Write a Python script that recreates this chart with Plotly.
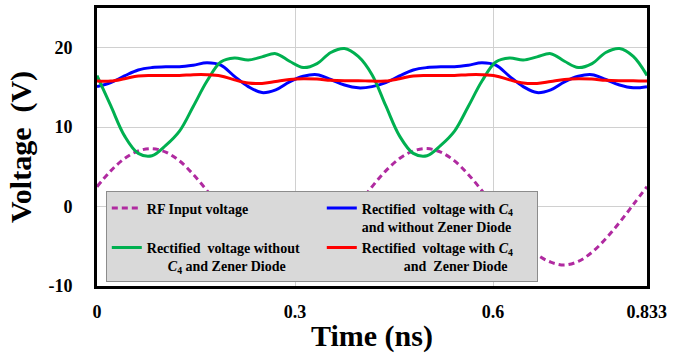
import plotly.graph_objects as go

# Time samples (ns)
time_ns = [0.0, 0.0208, 0.0417, 0.0625, 0.0833, 0.1042, 0.125, 0.1458, 0.1667, 0.1875,
           0.2083, 0.2292, 0.25, 0.2708, 0.2917, 0.3125, 0.3333, 0.3542, 0.375, 0.3958,
           0.4167, 0.4375, 0.4583, 0.4792, 0.5, 0.5208, 0.5417, 0.5625, 0.5833, 0.6042,
           0.625, 0.6458, 0.6667, 0.6875, 0.7083, 0.7292, 0.75, 0.7708, 0.7917, 0.8125,
           0.8333]

rf_input = [2.5, 4.5, 6.05, 7.0, 7.3, 6.85, 5.75, 4.05, 2.0, -0.25,
            -2.5, -4.5, -6.05, -7.0, -7.3, -6.9, -5.75, -4.05, -2.0, 0.25,
            2.5, 4.5, 6.05, 7.0, 7.3, 6.85, 5.75, 4.05, 2.0, -0.25,
            -2.5, -4.5, -6.05, -7.0, -7.35, -6.9, -5.75, -4.05, -2.0, 0.25,
            2.5]

no_c4_no_zener = [16.5, 12.7, 8.9, 6.7, 6.4, 7.7, 9.5, 12.6, 15.8, 18.2,
                  18.7, 18.45, 18.85, 19.25, 18.3, 17.5, 18.0, 19.4, 19.9, 18.9,
                  16.6, 12.7, 8.9, 6.7, 6.4, 7.7, 9.5, 12.6, 15.8, 18.2,
                  18.7, 18.45, 18.85, 19.25, 18.3, 17.5, 18.0, 19.4, 19.9, 18.9,
                  16.5]

c4_no_zener = [15.1, 15.6, 16.45, 17.2, 17.5, 17.6, 17.6, 17.8, 18.1, 17.8,
               16.4, 15.1, 14.35, 14.7, 15.7, 16.4, 16.6, 16.0, 15.3, 14.95,
               15.1, 15.6, 16.45, 17.2, 17.5, 17.6, 17.6, 17.8, 18.1, 17.8,
               16.4, 15.1, 14.35, 14.7, 15.7, 16.4, 16.6, 16.0, 15.3, 14.95,
               15.1]

c4_zener = [15.8, 15.8, 16.1, 16.45, 16.5, 16.5, 16.5, 16.6, 16.6, 16.45,
            15.95, 15.55, 15.5, 15.75, 16.0, 16.1, 16.05, 15.9, 15.85, 15.85,
            15.8, 15.8, 16.1, 16.45, 16.5, 16.5, 16.5, 16.6, 16.6, 16.45,
            15.95, 15.55, 15.5, 15.75, 16.0, 16.1, 16.05, 15.9, 15.85, 15.85,
            15.8]

x_tickvals = [0, 0.3, 0.6, 0.833]
x_ticktext = ["0", "0.3", "0.6", "0.833"]
y_tickvals = [-10, 0, 10, 20]
y_ticktext = ["-10", "0", "10", "20"]

FONT = "Liberation Serif, Times New Roman, serif"
NB = "\u00a0"

fig = go.Figure()
fig.add_trace(go.Scatter(
    x=time_ns, y=rf_input, mode="lines", name="RF Input voltage",
    line=dict(color="#B02AA0", width=3, dash="6px,4px", shape="spline"),
    legendrank=1))
fig.add_trace(go.Scatter(
    x=time_ns, y=c4_no_zener, mode="lines",
    name="Rectified  voltage with <i>C</i><sub>4</sub><br>and without Zener Diode",
    line=dict(color="#0000FF", width=3, shape="spline"),
    legendrank=2))
fig.add_trace(go.Scatter(
    x=time_ns, y=no_c4_no_zener, mode="lines",
    name="Rectified  voltage without<br>" + NB * 6 + "<i>C</i><sub>4</sub> and Zener Diode",
    line=dict(color="#00B050", width=3, shape="spline"),
    legendrank=3))
fig.add_trace(go.Scatter(
    x=time_ns, y=c4_zener, mode="lines",
    name="Rectified  voltage with <i>C</i><sub>4</sub><br>" + NB * 12 + "and  Zener Diode",
    line=dict(color="#FF0000", width=3, shape="spline"),
    legendrank=4))

fig.update_layout(
    width=675, height=360,
    margin=dict(l=97, r=28, t=5, b=74),
    paper_bgcolor="white", plot_bgcolor="white",
    font=dict(family=FONT, color="black", size=18, weight="bold"),
    showlegend=True,
    legend=dict(
        orientation="h", x=0.016, y=0.34, xanchor="left", yanchor="top",
        entrywidth=170, entrywidthmode="pixels",
        bgcolor="#D9D9D9", bordercolor="#8C8C8C", borderwidth=1,
        font=dict(family=FONT, size=14, color="black", weight="bold"),
        valign="top", traceorder="normal", itemwidth=30,
    ),
    xaxis=dict(
        range=[0, 0.8333], tickvals=x_tickvals, ticktext=x_ticktext,
        showgrid=True, gridcolor="#D0D0D0", gridwidth=1, zeroline=False,
        showline=True, linecolor="black", linewidth=3, mirror=True,
        ticks="", ticklabelstandoff=7,
        tickfont=dict(family=FONT, size=18, weight="bold"),
        title=dict(text="Time (ns)", font=dict(family=FONT, size=30, weight="bold"), standoff=5),
    ),
    yaxis=dict(
        range=[-10, 25], tickvals=y_tickvals, ticktext=y_ticktext,
        showgrid=True, gridcolor="#D0D0D0", gridwidth=1, zeroline=False,
        showline=True, linecolor="black", linewidth=3, mirror=True,
        ticks="", ticklabelstandoff=18,
        tickfont=dict(family=FONT, size=18, weight="bold"),
        title=dict(text="Voltage  (V)" + NB * 7, font=dict(family=FONT, size=30, weight="bold"), standoff=8),
    ),
)

fig.write_html("out.html")
